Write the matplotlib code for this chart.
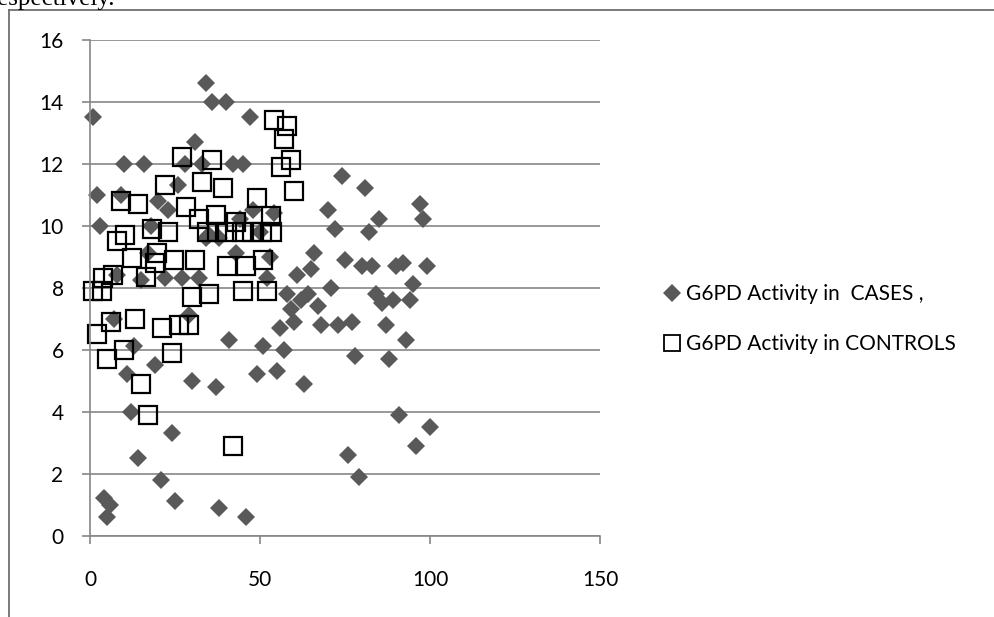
import numpy as np
import matplotlib
matplotlib.use('Agg')
import matplotlib.pyplot as plt
from matplotlib.lines import Line2D

plt.rcParams['font.family'] = ['Lato', 'DejaVu Sans']

# G6PD activity - cases (diamonds)
case_x = [34, 36, 40, 1, 47, 31, 10, 16, 28, 33, 42, 45, 2, 9, 20, 23, 26, 3, 48, 54,
          74, 81, 70, 97, 85, 98, 72, 82, 18, 34, 38, 44, 35, 50, 17, 43, 53, 15, 22, 27,
          32, 52, 7, 29, 56, 13, 41, 51, 19, 11, 30, 37, 49, 55, 66, 75, 80, 83, 90, 92,
          99, 61, 65, 71, 58, 64, 62, 84, 95, 86, 89, 94, 67, 59, 60, 68, 73, 77, 87, 57,
          93, 78, 88, 63, 12, 24, 14, 21, 25, 4, 6, 5, 38, 46, 76, 79, 91, 96, 100, 8]
case_y = [14.6, 14.0, 14.0, 13.5, 13.5, 12.7, 12.0, 12.0, 12.0, 12.0, 12.0, 12.0, 11.0, 11.0, 10.8, 10.5, 11.3, 10.0, 10.5, 10.4,
          11.6, 11.2, 10.5, 10.7, 10.2, 10.2, 9.9, 9.8, 10.0, 9.6, 9.6, 10.2, 9.7, 9.8, 9.1, 9.1, 9.0, 8.25, 8.3, 8.3,
          8.3, 8.3, 7.0, 7.1, 6.7, 6.1, 6.3, 6.1, 5.5, 5.2, 5.0, 4.8, 5.2, 5.3, 9.1, 8.9, 8.7, 8.7, 8.7, 8.8,
          8.7, 8.4, 8.6, 8.0, 7.8, 7.8, 7.6, 7.8, 8.1, 7.5, 7.6, 7.6, 7.4, 7.3, 6.9, 6.8, 6.8, 6.9, 6.8, 6.0,
          6.3, 5.8, 5.7, 4.9, 4.0, 3.3, 2.5, 1.8, 1.1, 1.2, 1.0, 0.6, 0.9, 0.6, 2.6, 1.9, 3.9, 2.9, 3.5, 8.4]

# G6PD activity - controls (open squares)
ctrl_x = [1, 2, 3.4, 3.9, 4.9, 6.1, 6.9, 7.8, 9.1, 10.3, 10, 12.3, 13.2, 14, 14.9, 16.5, 17, 18.1, 19.1, 19.8,
          21.1, 22, 23, 24, 24.8, 26.3, 27, 28.1, 29.2, 29.9, 30.9, 32, 33, 34.3, 35.1, 36, 37, 37.3, 39, 40.2,
          40.2, 42, 43, 44.6, 45.1, 45.8, 47.5, 49, 50.5, 51, 52, 53.1, 53.4, 54.2, 56.1, 57.2, 58, 59, 60.1]
ctrl_y = [7.9, 6.5, 7.9, 8.3, 5.7, 6.9, 8.4, 9.5, 10.8, 9.7, 6.0, 8.95, 7.0, 10.7, 4.9, 8.35, 3.9, 9.9, 8.8, 9.1,
          6.7, 11.3, 9.8, 5.9, 8.9, 6.8, 12.2, 10.6, 6.8, 7.7, 8.9, 10.2, 11.4, 9.8, 7.8, 12.1, 10.35, 9.8, 11.2, 9.8,
          8.7, 2.9, 10.1, 9.8, 7.9, 8.7, 9.8, 10.9, 9.8, 8.9, 7.9, 10.3, 9.8, 13.4, 11.9, 12.8, 13.2, 12.1, 11.1]

labels = ['G6PD Activity in  CASES ,', 'G6PD Activity in CONTROLS']
x_ticks = [0, 50, 100, 150]
y_ticks = [0, 2, 4, 6, 8, 10, 12, 14, 16]

grid_col = '#868686'
case_col = '#595959'

fig = plt.figure(figsize=(9.94, 6.17), dpi=100)
ax = fig.add_axes([90/994, 1-535.5/617, 510/994, 496/617])

ax.plot(case_x, case_y, linestyle='none', marker='D', markersize=9.5,
        markerfacecolor=case_col, markeredgecolor=case_col, markeredgewidth=0)
ax.plot(ctrl_x, ctrl_y, linestyle='none', marker='s', markersize=13,
        markerfacecolor='none', markeredgecolor='black', markeredgewidth=1.6)

ax.set_xlim(0, 150)
ax.set_ylim(0, 16)
ax.set_xticks(x_ticks)
ax.set_yticks(y_ticks)
ax.yaxis.grid(True, color=grid_col, linewidth=1.2)
ax.set_axisbelow(True)
for s in ['top', 'right']:
    ax.spines[s].set_visible(False)
for s in ['left', 'bottom']:
    ax.spines[s].set_color(grid_col)
    ax.spines[s].set_linewidth(1.2)
ax.tick_params(axis='both', direction='out', length=6, width=1.2, color=grid_col,
               labelsize=15, labelcolor='black')
ax.tick_params(axis='y', pad=13)
ax.tick_params(axis='x', pad=19)
for ln in ax.lines:
    ln.set_clip_on(False)

handles = [Line2D([], [], linestyle='none', marker='D', markersize=9,
                  markerfacecolor=case_col, markeredgewidth=0),
           Line2D([], [], linestyle='none', marker='s', markersize=12,
                  markerfacecolor='none', markeredgecolor='black', markeredgewidth=1.3)]
fig.legend(handles, labels, loc='center left', bbox_to_anchor=(655/994, 1-319/617),
           frameon=False, fontsize=15, handlelength=0.8, handletextpad=0.3,
           labelspacing=1.45, borderaxespad=0)

# outer frame from the surrounding page
fig.add_artist(Line2D([9/994, 9/994], [0, 1-10/617], color='#6f6f6f', linewidth=1.3))
fig.add_artist(Line2D([9/994, 1], [1-10/617, 1-10/617], color='#6f6f6f', linewidth=1.3))
# tail of the page text above the chart, cut by the top edge as in the source
fig.text(-3/994, 1-5/617, 'espectively.', fontsize=18, family='Liberation Serif',
         va='baseline', ha='left')

fig.savefig('out.png', dpi=100)
